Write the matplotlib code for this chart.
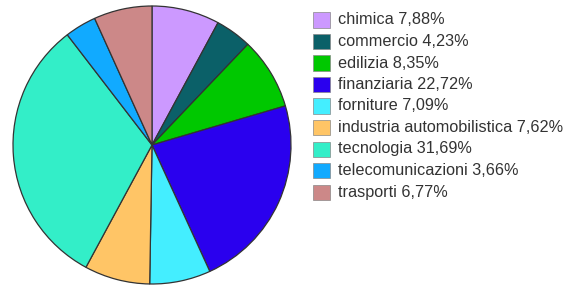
import numpy as np
import matplotlib.pyplot as plt
from matplotlib.patches import Rectangle

# settori e quote (%)
sectors = ['chimica', 'commercio', 'edilizia', 'finanziaria', 'forniture',
           'industria automobilistica', 'tecnologia', 'telecomunicazioni', 'trasporti']
shares = [7.88, 4.23, 8.35, 22.72, 7.09, 7.62, 31.69, 3.66, 6.77]
colors = ['#cc99ff', '#0b6068', '#00c800', '#2a00ee', '#44eeff',
          '#ffc566', '#33eec8', '#11aaff', '#cc8888']

W, H = 571, 285
fig = plt.figure(figsize=(W / 100, H / 100), dpi=100)
fig.patch.set_facecolor('white')

# pie: center (152,145), radius ~139 px
cx, cy, r = 152, 145, 139
ax = fig.add_axes([(cx - r) / W, (H - cy - r) / H, 2 * r / W, 2 * r / H])
ax.pie(shares, colors=colors, startangle=90, counterclock=False,
       wedgeprops=dict(edgecolor='#333333', linewidth=0.9))
ax.set_xlim(-1, 1)
ax.set_ylim(-1, 1)
ax.set_aspect('equal')
ax.axis('off')

# legend drawn by hand
x0, y0, step = 313, 20, 21.5
bw, bh = 17, 15
for i, (name, val, col) in enumerate(zip(sectors, shares, colors)):
    yc = y0 + i * step
    fig.add_artist(Rectangle(((x0) / W, (H - yc - bh / 2) / H), bw / W, bh / H,
                             transform=fig.transFigure, facecolor=col,
                             edgecolor='#888888', linewidth=0.5))
    label = f"{name} {val:.2f}%".replace('.', ',')
    fig.text((x0 + bw + 8) / W, (H - yc) / H, label, fontsize=11.7,
             family='Liberation Sans', color='#333333', va='center', ha='left')

fig.savefig('out.png', dpi=100)
